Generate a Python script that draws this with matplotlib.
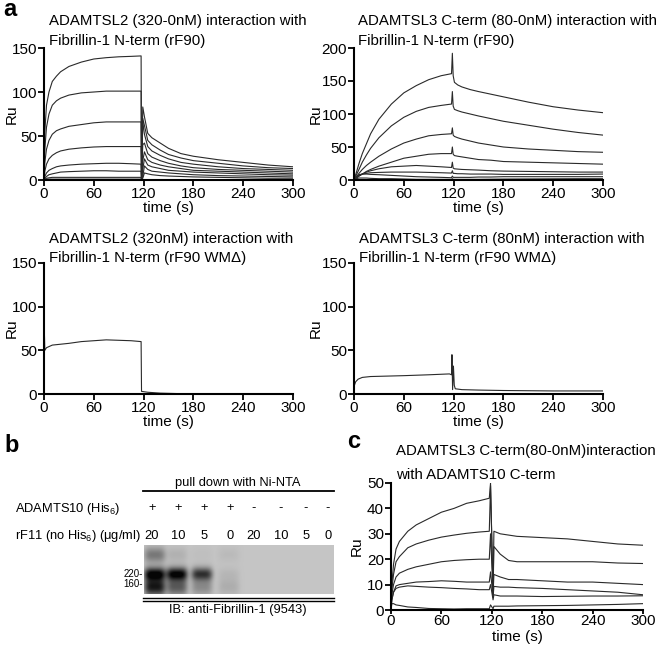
import numpy as np
import matplotlib
matplotlib.use('Agg')
import matplotlib.pyplot as plt
from matplotlib.lines import Line2D

plt.rcParams['font.family'] = ['Liberation Sans', 'DejaVu Sans']

# ---------------------------------------------------------------------------
# data
# ---------------------------------------------------------------------------
# a, top-left: ADAMTSL2 320-0nM on rF90
TL_T = [0, 1, 3, 6, 10, 15, 20, 30, 45, 60, 75, 90, 105, 117,
        117.5, 119, 121, 125, 130, 140, 150, 165, 180, 210, 240, 270, 300]
TL_RU = [
    [0, 55, 85, 100, 112, 118, 123, 129, 134, 137.5, 139, 140, 140.5, 141,
     1, 83, 72, 53, 48, 42, 36, 30, 27, 23, 20, 17, 15],
    [0, 35, 60, 75, 85, 90, 93, 96.5, 99, 100, 101, 101, 101, 101,
     1, 70, 62, 45, 40, 34, 29, 25, 22, 19, 16, 14, 13],
    [0, 20, 35, 45, 52, 56, 58, 61, 63, 65, 66, 66, 66, 66,
     1, 66, 52, 38, 33, 28, 24, 20, 18, 15, 13, 12, 11],
    [0, 10, 18, 24, 28, 31, 33, 35, 36.5, 37.5, 38, 38, 38, 38,
     1, 40, 42, 30, 26, 22, 19, 16, 14, 12, 11, 10, 9],
    [0, 4, 8, 11, 13, 15, 16, 17, 18, 18.5, 19, 19, 18.5, 18,
     1, 22, 32, 23, 20, 17, 15, 13, 11, 10, 9, 8, 7],
    [0, 2, 4, 6, 7, 8, 9, 9.5, 10, 10.5, 10.5, 10, 10, 10,
     1, 12, 24, 17, 15, 13, 11, 10, 9, 8, 7, 6, 5.5],
    [0, 1, 2, 2.5, 3, 3, 3, 3, 3, 3, 3, 3, 3, 3,
     1, 4, 16, 12, 10, 9, 8, 7, 6, 5, 4.5, 4, 3.5],
    [0, 0.5, 1, 1, 1, 1, 1, 1, 1, 1, 1, 1, 1, 1,
     1, 2, 8, 7, 6, 5, 4.5, 4, 3.5, 3, 2.5, 2, 2],
]

# a, top-right: ADAMTSL3 C-term 80-0nM on rF90
TR_T = [0, 3, 6, 10, 15, 20, 30, 45, 60, 75, 90, 105, 117,
        117.5, 118.5, 119.5, 121, 125, 130, 140, 150, 165, 180, 210, 240, 270, 300]
TR_RU = [
    [0, 12, 25, 40, 55, 70, 92, 115, 132, 143, 152, 158, 161,
     161, 192, 158, 148, 144, 141, 137, 134, 130, 126, 118, 111, 106, 102],
    [0, 8, 16, 27, 38, 48, 64, 82, 95, 104, 110, 113, 115,
     115, 134, 112, 107, 105, 103, 100, 97, 93, 89, 83, 77, 72, 68],
    [0, 5, 10, 16, 22, 27, 36, 47, 56, 62, 67, 69, 70,
     70, 79, 68, 66, 64, 62, 59, 56, 53, 50, 47, 45, 43, 42],
    [0, 3, 6, 9, 13, 16, 21, 27, 33, 36, 39, 40, 40,
     40, 50, 39, 37, 36, 35, 33, 31, 30, 28, 27, 26, 25, 24],
    [0, 3, 6, 9, 12, 14, 17, 20, 21, 22, 21, 20, 19,
     19, 27, 18, 17, 16.5, 16, 15.5, 15, 14, 13.5, 13, 12.5, 12, 12],
    [0, 4, 7, 9, 10, 11, 11.5, 12, 12, 12, 11.5, 11, 10.5,
     10.5, 14, 10, 10, 9.5, 9.5, 9, 9, 9, 8.5, 8.5, 8.5, 8.5, 9],
    [0, 5, 8, 9, 9, 8.5, 8, 7, 6, 5, 4.5, 4, 3.5,
     3.5, 6, 4, 4, 4, 4, 4, 4.5, 4.5, 5, 5, 5, 5, 5],
    [0, 2, 3, 3, 3, 2.5, 2, 2, 1.5, 1, 1, 1, 1,
     1, 2, 1, 1, 1, 1, 1, 1, 1.2, 1.4, 1.6, 1.8, 2, 2],
]

# a, middle-left: ADAMTSL2 320nM on rF90 WM-delta
ML_T = [0, 0.3, 1, 3, 10, 20, 30, 45, 60, 75, 90, 105, 117,
        117.5, 125, 140, 160, 200, 250, 300]
ML_RU = [0, 76, 50, 53, 56, 57, 58, 60, 61, 62, 61.5, 61, 60,
         3, 2, 1, 0.5, 0.3, 0.2, 0.2]

# a, middle-right: ADAMTSL3 C-term 80nM on rF90 WM-delta
MR_T = [0, 0.5, 2, 5, 10, 20, 40, 60, 90, 115, 117.5, 118, 118.8,
        119.8, 120.8, 122, 130, 150, 180, 240, 300]
MR_RU = [0, 10, 14, 17, 19, 20, 20.5, 21, 22, 23, 22, 45, 5,
         32, 10, 6, 5, 4.5, 4, 3.5, 3.5]

# c: ADAMTSL3 C-term 80-0nM on ADAMTS10 C-term
C_T = [0, 1, 3, 6, 10, 20, 30, 45, 60, 75, 90, 105, 117,
       118.5, 121.5, 122.5, 130, 140, 150, 180, 210, 240, 270, 300]
C_RU = [
    [0, 10, 18, 24, 27, 31, 33.5, 36, 38.5, 40, 42, 43, 44,
     50, 6, 31, 30, 29.5, 29, 28.5, 28, 27, 26, 25.5],
    [0, 8, 14, 19, 21, 24.5, 26, 27.5, 28.7, 29.5, 30.2, 30.7, 31,
     49, 7, 25, 22, 19.5, 19, 19, 19, 19, 18.5, 18.3],
    [0, 6, 10, 13, 14.5, 16, 17, 18, 19, 19.5, 19.8, 20, 20,
     30, 6, 14, 13, 12, 12, 11.5, 11, 11, 10.5, 10],
    [0, 4, 7, 9.5, 10, 10.5, 11, 11.2, 11.5, 11.3, 11, 11, 11,
     15, 5, 9.3, 9, 9, 8.8, 8.5, 8, 7.5, 7, 6],
    [0, 4, 7, 8.5, 9, 9.5, 9.3, 9, 8.8, 8.5, 8.3, 8, 8,
     10, 4, 6, 5.5, 5.5, 5.5, 5.3, 5.4, 5.5, 5.5, 5.6],
    [0, 2.5, 2.5, 2, 1.8, 1.2, 1, 0.6, 0.5, 0.4, 0.5, 0.5, 0.5,
     2, 0.5, 1.5, 1.5, 1.5, 1.6, 1.7, 1.8, 2, 2.2, 2.5],
]

# b: pull-down blot
HIS_ROW = ['+', '+', '+', '+', '-', '-', '-', '-']
RF11_CONC = ['20', '10', '5', '0', '20', '10', '5', '0']
BAND_220 = [1.0, 1.0, 0.75, 0.06, 0, 0, 0, 0]
SMEAR_LOW = [0.9, 0.55, 0.3, 0.12, 0, 0, 0, 0]
SMEAR_HIGH = [0.4, 0.1, 0.03, 0.05, 0, 0, 0, 0]
MARKERS = ['220-', '160-']

X_TICKS = [0, 60, 120, 180, 240, 300]

# ---------------------------------------------------------------------------
W, H = 661, 653
fig = plt.figure(figsize=(W / 100, H / 100), dpi=100)
LINE = '#2a2a2a'
FS = 11
TFS = 10.8


def fx(x):
    return x / W


def fy(y):
    return 1 - y / H


def px_axes(x0, y0, x1, y1):
    return fig.add_axes([fx(x0), fy(y1), (x1 - x0) / W, (y1 - y0) / H])


def style(ax, ymax, yticks):
    ax.set_xlim(0, 300)
    ax.set_ylim(0, ymax)
    ax.set_xticks(X_TICKS)
    ax.set_yticks(yticks)
    for s in ('top', 'right'):
        ax.spines[s].set_visible(False)
    for s in ('left', 'bottom'):
        ax.spines[s].set_linewidth(1.5)
        ax.spines[s].set_zorder(5)
    ax.tick_params(direction='out', length=4, width=1.3, labelsize=FS, pad=1)
    ax.patch.set_visible(False)


def title(x, y1, y2, l1, l2, size=TFS):
    fig.text(fx(x), fy(y1), l1, fontsize=size, va='center', ha='left')
    fig.text(fx(x), fy(y2), l2, fontsize=size, va='center', ha='left')


def labels(ax_box, xlab_y, ru_x):
    x0, y0, x1, y1 = ax_box
    fig.text(fx((x0 + x1) / 2), fy(xlab_y), 'time (s)', fontsize=FS, ha='center', va='center')
    fig.text(fx(ru_x), fy((y0 + y1) / 2), 'Ru', fontsize=FS, ha='center', va='center', rotation=90)


# --- a, top-left
box = (44, 48, 293, 180)
ax = px_axes(*box)
for ru in TL_RU:
    ax.plot(TL_T, ru, color=LINE, lw=0.8)
style(ax, 150, [0, 50, 100, 150])
labels(box, 208, 12)
title(49, 21, 41, 'ADAMTSL2 (320-0nM) interaction with', 'Fibrillin-1 N-term (rF90)')

# --- a, top-right
box = (354, 48, 603, 180)
ax = px_axes(*box)
for ru in TR_RU:
    ax.plot(TR_T, ru, color=LINE, lw=0.8)
style(ax, 200, [0, 50, 100, 150, 200])
labels(box, 208, 316)
title(358, 21, 41, 'ADAMTSL3 C-term (80-0nM) interaction with', 'Fibrillin-1 N-term (rF90)')

# --- a, middle-left
box = (44, 263, 293, 394)
ax = px_axes(*box)
ax.plot(ML_T, ML_RU, color=LINE, lw=0.8)
style(ax, 150, [0, 50, 100, 150])
labels(box, 422, 12)
title(49, 239, 258, 'ADAMTSL2 (320nM) interaction with', 'Fibrillin-1 N-term (rF90 WM\u0394)')

# --- a, middle-right
box = (354, 263, 603, 394)
ax = px_axes(*box)
ax.plot(MR_T, MR_RU, color=LINE, lw=0.8)
style(ax, 150, [0, 50, 100, 150])
labels(box, 422, 316)
title(359, 239, 258, 'ADAMTSL3 C-term (80nM) interaction with', 'Fibrillin-1 N-term (rF90 WM\u0394)')

# --- c
box = (391, 483, 643, 610)
ax = px_axes(*box)
for ru in C_RU:
    ax.plot(C_T, ru, color=LINE, lw=0.8)
style(ax, 50, [0, 10, 20, 30, 40, 50])
ax.tick_params(axis='x', pad=0, length=3)
labels(box, 637, 357)
title(396, 451, 475, 'ADAMTSL3 C-term(80-0nM)interaction', 'with ADAMTS10 C-term')

# --- b: blot
lane_px = [152, 178, 204, 230, 254, 281, 306, 328]
band_px = [155, 177, 202, 229, 254, 281, 306, 328]
gx0, gy0, gx1, gy1 = 144, 545, 334, 594
gax = px_axes(gx0, gy0, gx1, gy1)
gw, gh = gx1 - gx0, gy1 - gy0
xx, yy = np.meshgrid(np.arange(gw) + 0.5, np.arange(gh) + 0.5)
dark = np.zeros((gh, gw))
for i, cx in enumerate(band_px):
    c = cx - gx0
    lane = np.exp(-((xx - c) / 10.5) ** 4)
    dark += BAND_220[i] * lane * np.exp(-((yy - 29) / 6.5) ** 2)
    dark += SMEAR_LOW[i] * lane * np.exp(-((yy - 42) / 9.0) ** 2)
    dark += SMEAR_HIGH[i] * lane * np.exp(-((yy - 10) / 8.0) ** 2)
dark = np.clip(dark, 0, 1)
img = 0.77 * (1 - dark) + 0.02 * dark
gax.imshow(img, cmap='gray', vmin=0, vmax=1, extent=[0, gw, gh, 0], aspect='auto',
           interpolation='bilinear')
gax.set_axis_off()

fig.add_artist(Line2D([fx(143), fx(334)], [fy(491), fy(491)], color='black', lw=1.3))
fig.add_artist(Line2D([fx(143), fx(334)], [fy(598), fy(598)], color='black', lw=1.0))
fig.add_artist(Line2D([fx(143), fx(334)], [fy(600.5), fy(600.5)], color='black', lw=1.0))
BFS = 9.3
fig.text(fx(238), fy(483), 'pull down with Ni-NTA', fontsize=BFS, ha='center', va='center')
fig.text(fx(238), fy(610), 'IB: anti-Fibrillin-1 (9543)', fontsize=BFS, ha='center', va='center')
fig.text(fx(15), fy(509), 'ADAMTS10 (His$\\mathregular{_6}$)', fontsize=BFS, ha='left', va='center')
fig.text(fx(15), fy(536), 'rF11 (no His$\\mathregular{_6}$) (\u03bcg/ml)', fontsize=BFS, ha='left', va='center')
for cx, s, c in zip(lane_px, HIS_ROW, RF11_CONC):
    fig.text(fx(cx), fy(508), s, fontsize=BFS, ha='center', va='center')
    fig.text(fx(cx), fy(536), c, fontsize=BFS, ha='center', va='center')
for lab, y in zip(MARKERS, [574, 584]):
    fig.text(fx(143), fy(y), lab, fontsize=7, ha='right', va='center')

# panel letters
fig.text(fx(3), fy(10), 'a', fontsize=17, fontweight='bold', ha='left', va='center')
fig.text(fx(4), fy(446), 'b', fontsize=17, fontweight='bold', ha='left', va='center')
fig.text(fx(347), fy(442), 'c', fontsize=17, fontweight='bold', ha='left', va='center')

fig.savefig('out.png', dpi=100)
